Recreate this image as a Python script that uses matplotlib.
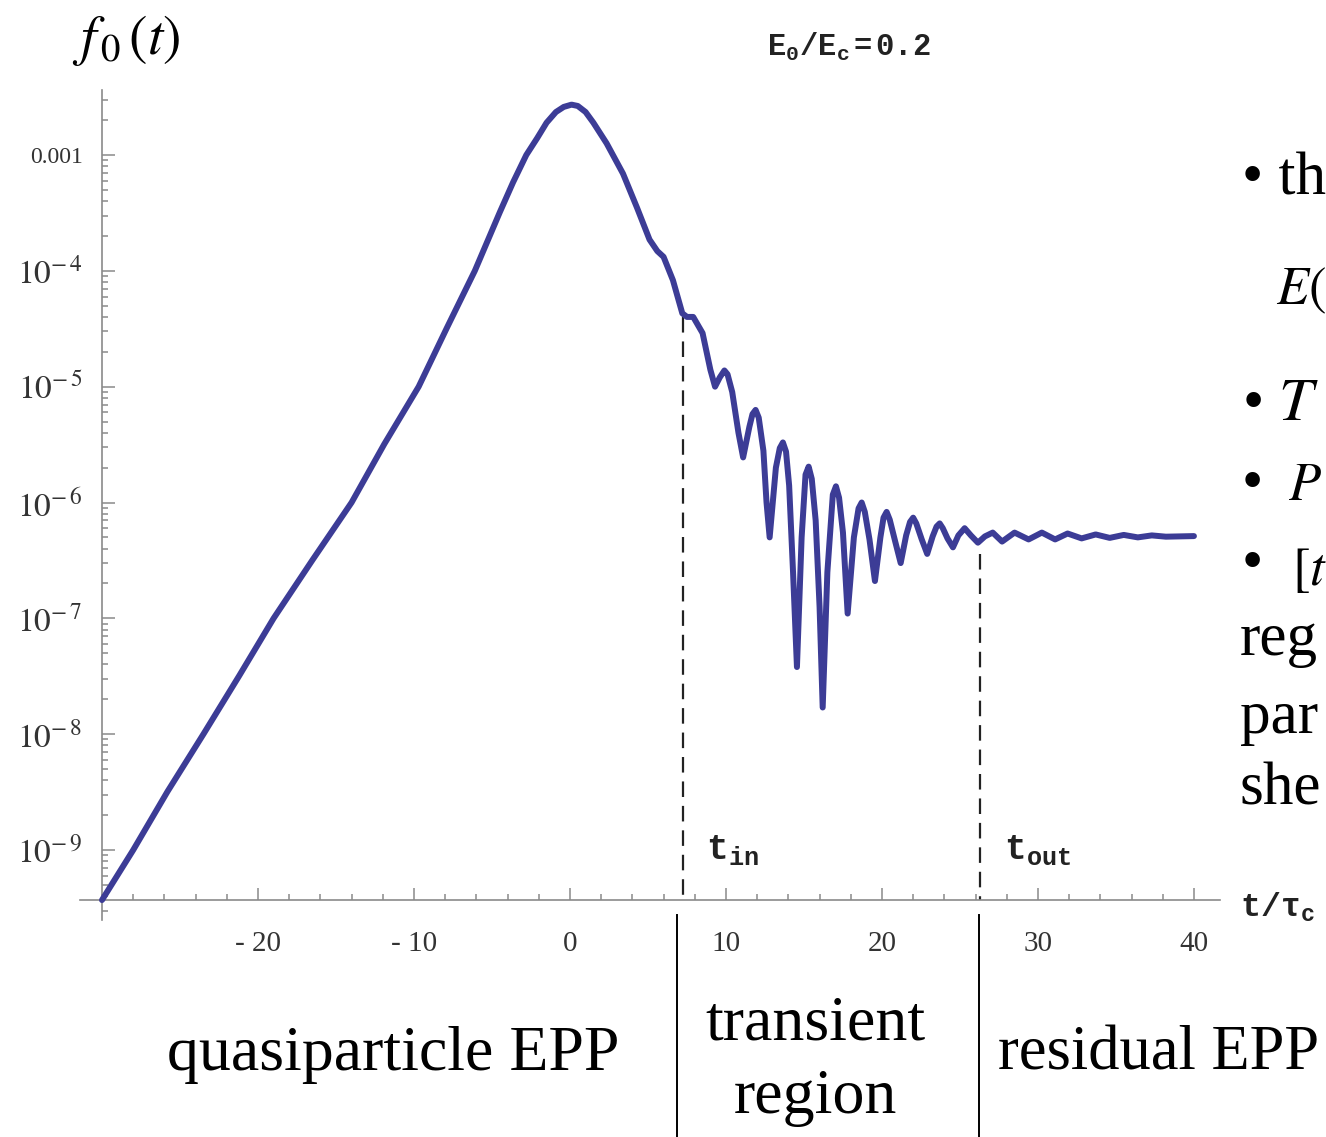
import matplotlib.pyplot as plt
from matplotlib import transforms

# mono bold for the Mathematica-style labels (E0/Ec, t_in, t/tau_c)
plt.rcParams['mathtext.rm'] = 'Liberation Mono:bold'
plt.rcParams['mathtext.it'] = 'Liberation Mono:bold'
plt.rcParams['mathtext.bf'] = 'Liberation Mono:bold'

# f_0(t) (t in units of tau_c)
t_vals = [-30.0, -28.0, -25.8, -23.5, -21.2, -19.0, -16.5, -14.0, -11.9, -9.7,
          -7.9, -6.1, -4.5, -3.65, -2.8, -2.1, -1.5, -0.9, -0.4, 0.1,
          0.5, 1.0, 1.5, 2.35, 3.4, 4.3, 5.1, 5.6, 6.0, 6.6,
          7.2, 7.5, 7.9, 8.5, 9.0, 9.3, 9.6, 9.9, 10.1, 10.4,
          10.8, 11.1, 11.5, 11.7, 11.9, 12.1, 12.4, 12.6, 12.8, 13.2,
          13.45, 13.65, 13.85, 14.05, 14.3, 14.55, 14.85, 15.1, 15.3, 15.5,
          15.75, 16.0, 16.2, 16.5, 16.85, 17.05, 17.25, 17.5, 17.8, 18.2,
          18.5, 18.7, 18.9, 19.2, 19.55, 19.9, 20.1, 20.3, 20.5, 20.85,
          21.2, 21.55, 21.8, 22.0, 22.2, 22.55, 22.9, 23.25, 23.5, 23.7,
          23.9, 24.2, 24.55, 24.9, 25.3, 25.7, 26.15, 26.6, 27.1, 27.7,
          28.5, 29.4, 30.25, 31.1, 31.9, 32.8, 33.7, 34.6, 35.5, 36.4,
          37.3, 38.2, 40.0]
f_vals = [3.7e-10, 1.0e-9, 3.2e-9, 1.0e-8, 3.2e-8, 1.0e-7, 3.2e-7, 1.0e-6, 3.2e-6, 1.0e-5,
          3.2e-5, 1.0e-4, 3.2e-4, 5.8e-4, 1.0e-3, 1.4e-3, 1.9e-3, 2.35e-3, 2.6e-3, 2.72e-3,
          2.65e-3, 2.35e-3, 1.9e-3, 1.26e-3, 6.9e-4, 3.5e-4, 1.86e-4, 1.48e-4, 1.32e-4, 8.3e-5,
          4.3e-5, 4.0e-5, 4.0e-5, 2.9e-5, 1.4e-5, 1.0e-5, 1.2e-5, 1.38e-5, 1.28e-5, 9.0e-6,
          4.0e-6, 2.45e-6, 4.5e-6, 5.8e-6, 6.3e-6, 5.4e-6, 2.8e-6, 1.0e-6, 5.0e-7, 2.0e-6,
          2.95e-6, 3.3e-6, 2.75e-6, 1.4e-6, 2.5e-7, 3.8e-8, 5.0e-7, 1.74e-6, 2.04e-6, 1.6e-6,
          7.0e-7, 1.26e-7, 1.7e-8, 2.5e-7, 1.17e-6, 1.38e-6, 1.1e-6, 5.5e-7, 1.1e-7, 5.0e-7,
          8.9e-7, 1.0e-6, 8.3e-7, 4.8e-7, 2.1e-7, 5.0e-7, 7.4e-7, 8.3e-7, 7.1e-7, 4.6e-7,
          3.0e-7, 5.2e-7, 6.8e-7, 7.4e-7, 6.6e-7, 4.8e-7, 3.6e-7, 5.1e-7, 6.2e-7, 6.6e-7,
          6.0e-7, 4.9e-7, 4.1e-7, 5.2e-7, 6.0e-7, 5.2e-7, 4.5e-7, 5.1e-7, 5.5e-7, 4.6e-7,
          5.5e-7, 4.8e-7, 5.5e-7, 4.8e-7, 5.4e-7, 4.9e-7, 5.3e-7, 4.95e-7, 5.25e-7, 5.0e-7,
          5.2e-7, 5.07e-7, 5.13e-7]

t_in, f_in = 7.24, 4.0e-5
t_out, f_out = 26.3, 3.6e-7
f_axis = 3.7e-10          # where the t axis crosses
sep_t = [6.86, 26.2]      # separators under the axis

x_ticks = [-20, -10, 0, 10, 20, 30, 40]
x_labels = ['- 20', '- 10', '0', '10', '20', '30', '40']
y_ticks = [1e-3, 1e-4, 1e-5, 1e-6, 1e-7, 1e-8, 1e-9]
y_labels = ['0.001', r'$10^{-\,4}$', r'$10^{-\,5}$', r'$10^{-\,6}$',
            r'$10^{-\,7}$', r'$10^{-\,8}$', r'$10^{-\,9}$']

fig = plt.figure(figsize=(13.26, 11.37), dpi=100)
ax = fig.add_axes([80 / 1326, 217 / 1137, 1140 / 1326, 830 / 1137])
ax.set_yscale('log')
ax.set_xlim(-31.41, 41.67)
ax.set_ylim(10 ** -9.604, 10 ** -2.439)

ax.plot(t_vals, f_vals, color='#3c3c96', lw=4.3, solid_joinstyle='round',
        solid_capstyle='round', zorder=3)

# dashed markers t_in / t_out
for tt, ff in [(t_in, f_in), (t_out, f_out)]:
    ax.plot([tt, tt], [ff, f_axis], color='#222222', lw=1.6,
            linestyle=(0, (7, 4)), zorder=2)

# axes crossing at (-30, f_axis), Mathematica style
for s in ['top', 'right']:
    ax.spines[s].set_visible(False)
ax.spines['left'].set_position(('data', -30))
ax.spines['bottom'].set_position(('data', f_axis))
for s in ['left', 'bottom']:
    ax.spines[s].set_color('#8a8a8a')
    ax.spines[s].set_linewidth(1.2)

ax.set_xticks(x_ticks)
ax.set_xticklabels(x_labels)
ax.set_xticks(range(-30, 42, 2), minor=True)
ax.set_yticks(y_ticks)
ax.set_yticklabels(y_labels)
ax.tick_params(which='both', direction='in', color='#8a8a8a', width=1.1)
ax.tick_params(which='major', length=9)
ax.tick_params(which='minor', length=4.5)
ax.tick_params(axis='x', pad=22, labelsize=21, labelcolor='#333333')
ax.tick_params(axis='y', pad=14, labelsize=24, labelcolor='#333333')
for lab in ax.get_xticklabels() + ax.get_yticklabels():
    lab.set_fontfamily('Liberation Serif')
    lab.set_math_fontfamily('stix')
ax.get_yticklabels()[0].set_fontsize(17)

# labels
fig.text(72 / 1326, 1 - 40 / 1137, r'$f_{\,0}\,(t)$', fontsize=40,
         math_fontfamily='stix', va='center', ha='left')
fig.text(849 / 1326, 1 - 47 / 1137, r'$\mathrm{E_0/E_c=0.2}$', fontsize=22,
         math_fontfamily='custom', ha='center', va='center', color='#222222')
ax.text(t_in + 1.5, 10 ** -9.0, r'$\mathrm{t_{in}}$', fontsize=26,
        math_fontfamily='custom', ha='left', va='center', color='#222222')
ax.text(t_out + 1.5, 10 ** -9.0, r'$\mathrm{t_{out}}$', fontsize=26,
        math_fontfamily='custom', ha='left', va='center', color='#222222')
fig.text(1240 / 1326, 1 - 907 / 1137, r'$\mathrm{t/\tau_c}$', fontsize=24,
         math_fontfamily='custom', ha='left', va='center', color='#222222')

# region separators and names under the axis
trans = transforms.blended_transform_factory(ax.transData, fig.transFigure)
for xs in sep_t:
    ax.plot([xs, xs], [0, 222 / 1137], color='black', lw=1.4,
            transform=trans, clip_on=False)

serif = 'Liberation Serif'
fig.text(393 / 1326, 1 - 1055 / 1137, 'quasiparticle EPP', fontsize=46,
         family=serif, ha='center', va='center')
fig.text(815 / 1326, 1 - 1025 / 1137, 'transient', fontsize=46,
         family=serif, ha='center', va='center')
fig.text(815 / 1326, 1 - 1098 / 1137, 'region', fontsize=46,
         family=serif, ha='center', va='center')
fig.text(998 / 1326, 1 - 1055 / 1137, 'residual EPP', fontsize=45,
         family=serif, ha='left', va='center')

# bullet notes on the right, only the part inside the frame
fig.text(1242 / 1326, 1 - 180 / 1137, '• th', fontsize=44, family=serif,
         va='center')
fig.text(1276 / 1326, 1 - 290 / 1137, r'$E($', fontsize=38,
         math_fontfamily='stix', va='center')
fig.text(1242 / 1326, 1 - 405 / 1137, r'• $T$', fontsize=44, family=serif,
         math_fontfamily='stix', va='center')
fig.text(1242 / 1326, 1 - 485 / 1137, '•', fontsize=44, family=serif,
         va='center')
fig.text(1288 / 1326, 1 - 485 / 1137, r'$P$', fontsize=38,
         math_fontfamily='stix', va='center')
fig.text(1242 / 1326, 1 - 565 / 1137, '•', fontsize=44, family=serif,
         va='center')
fig.text(1292 / 1326, 1 - 570 / 1137, r'$[t$', fontsize=38,
         math_fontfamily='stix', va='center')
fig.text(1240 / 1326, 1 - 640 / 1137, 'reg', fontsize=44, family=serif,
         va='center')
fig.text(1240 / 1326, 1 - 718 / 1137, 'par', fontsize=44, family=serif,
         va='center')
fig.text(1240 / 1326, 1 - 790 / 1137, 'she', fontsize=44, family=serif,
         va='center')

fig.savefig('out.png', dpi=100)
